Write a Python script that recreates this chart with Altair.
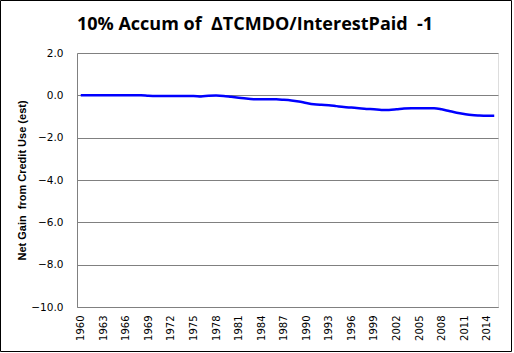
import altair as alt
import pandas as pd

years = list(range(1960, 2016))
values = [
    0.0, 0.0, 0.0, 0.0, 0.0, 0.0, 0.0, 0.0, 0.0, -0.02,   # 1960-1969
    -0.03, -0.03, -0.03, -0.03, -0.03, -0.03, -0.05, -0.02, -0.01, -0.03,  # 1970-1979
    -0.07, -0.11, -0.15, -0.18, -0.19, -0.19, -0.19, -0.21, -0.24, -0.29,  # 1980-1989
    -0.36, -0.42, -0.45, -0.47, -0.51, -0.55, -0.58, -0.61, -0.64, -0.66,  # 1990-1999
    -0.69, -0.69, -0.66, -0.62, -0.61, -0.61, -0.61, -0.61, -0.66, -0.74,  # 2000-2009
    -0.82, -0.88, -0.93, -0.95, -0.96, -0.96,  # 2010-2015
]
tick_years = [str(y) for y in range(1960, 2016, 3)]
y_ticks = [2, 0, -2, -4, -6, -8, -10]
title_text = "10% Accum of \u00a0\u0394TCMDO/InterestPaid \u00a0-1"
y_title = "Net Gain \u00a0from Credit Use (est)"

df = pd.DataFrame({"year": [str(y) for y in years], "value": values})

W, H = 421, 254

line = alt.Chart(df).mark_line(color="#0000FF", strokeWidth=2.5, interpolate="monotone").encode(
    x=alt.X("year:O",
            scale=alt.Scale(padding=0.5),
            axis=alt.Axis(values=tick_years, labelAngle=-90, labelFont="DejaVu Sans",
                          labelFontSize=10, labelColor="black", labelPadding=8,
                          ticks=False, domainColor="#808080", title=None, grid=False)),
    y=alt.Y("value:Q", scale=alt.Scale(domain=[-10, 2], nice=False),
            axis=alt.Axis(values=y_ticks, format=".1f", labelFont="DejaVu Sans",
                          labelFontSize=10.5, labelColor="black", labelPadding=14,
                          ticks=False, domainColor="#808080", gridColor="#808080",
                          gridOpacity=1, title=y_title, titleFont="Liberation Sans",
                          titleFontSize=11, titleFontWeight="bold", titleColor="black",
                          titlePadding=3)),
)

border = alt.Chart(pd.DataFrame({"a": [0]})).mark_rect(
    fill=None, stroke="black", strokeWidth=1, clip=False
).encode(
    x=alt.value(-76.5), x2=alt.value(434.5), y=alt.value(-52.5), y2=alt.value(298.5)
)

title = alt.Chart(pd.DataFrame({"t": [title_text]})).mark_text(
    font="Open Sans", fontSize=18, fontWeight="bold", color="black",
    align="center", baseline="alphabetic", clip=False
).encode(text="t:N", x=alt.value(178), y=alt.value(-23))

chart = alt.layer(line, border, title).properties(
    width=W, height=H,
    autosize=alt.AutoSizeParams(type="none"),
    padding={"left": 77, "top": 53, "right": 16, "bottom": 46},
).configure_view(stroke=None).configure(background="white")

chart.save("out.html", embed_options={"renderer": "svg", "actions": False})
